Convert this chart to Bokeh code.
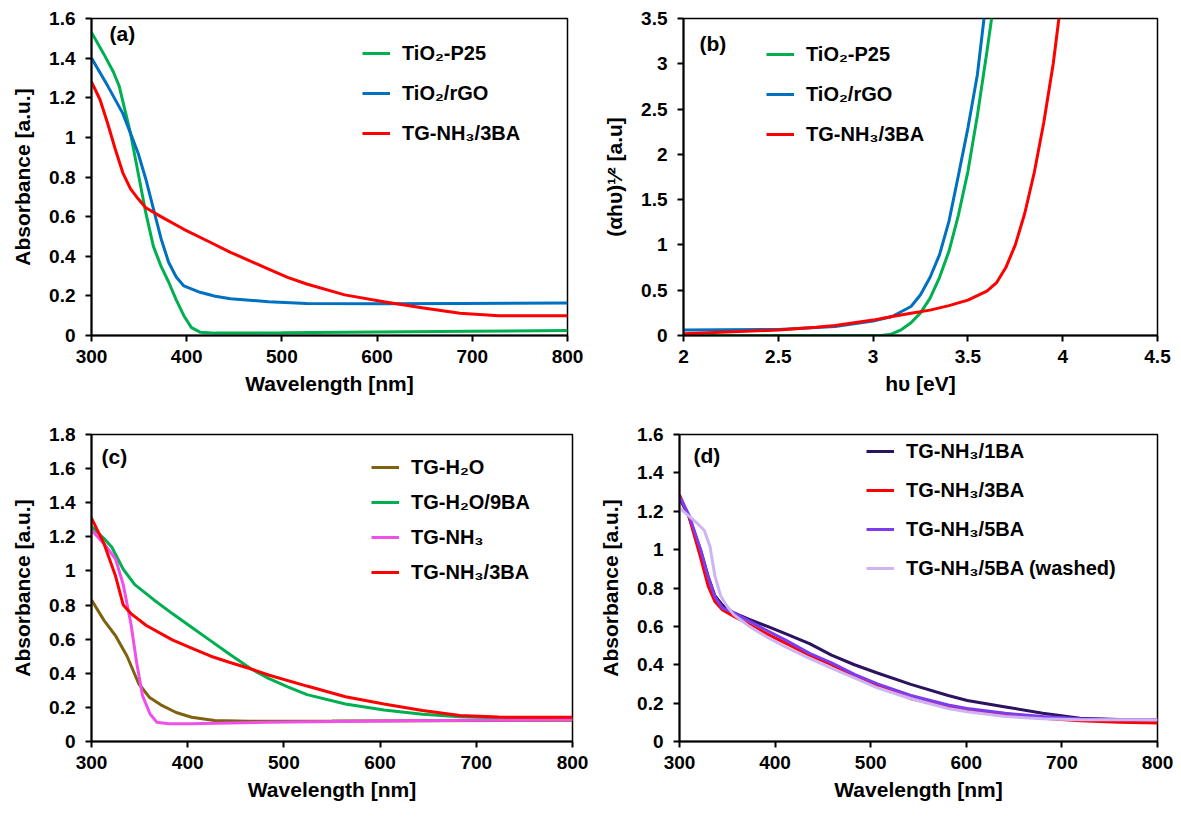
from bokeh.plotting import figure
from bokeh.layouts import column, row
from bokeh.models import Legend, LegendItem, FixedTicker, CustomJSTickFormatter, Label
from bokeh.embed import file_html
from bokeh.resources import INLINE

FONT = "Liberation Sans"

# ---------------- data ----------------
# (a) absorbance vs wavelength
A_X_P25 = [300, 313, 323, 329, 341, 349, 357, 365, 373, 381, 389, 397, 405, 414, 430, 500, 600, 700, 800]
A_Y_P25 = [1.53, 1.42, 1.33, 1.26, 1.02, 0.82, 0.62, 0.45, 0.35, 0.27, 0.18, 0.10, 0.04, 0.017, 0.012, 0.014, 0.018, 0.022, 0.025]
A_X_RGO = [300, 317, 333, 341, 349, 357, 365, 373, 381, 389, 397, 414, 430, 446, 486, 526, 607, 687, 800]
A_Y_RGO = [1.40, 1.26, 1.12, 1.02, 0.92, 0.79, 0.64, 0.49, 0.37, 0.295, 0.25, 0.218, 0.198, 0.186, 0.17, 0.162, 0.16, 0.162, 0.164]
A_X_BA3 = [300, 309, 317, 325, 333, 341, 349, 357, 373, 397, 422, 446, 486, 506, 526, 566, 607, 647, 687, 728, 800]
A_Y_BA3 = [1.28, 1.19, 1.07, 0.94, 0.82, 0.74, 0.69, 0.645, 0.60, 0.536, 0.477, 0.42, 0.335, 0.293, 0.26, 0.205, 0.17, 0.14, 0.112, 0.10, 0.10]

# (b) Tauc plot
B_X_P25 = [2.0, 2.5, 3.0, 3.05, 3.09, 3.15, 3.2, 3.25, 3.3, 3.35, 3.4, 3.45, 3.5, 3.55, 3.6, 3.625]
B_Y_P25 = [0, 0, 0, 0.003, 0.01, 0.066, 0.14, 0.25, 0.41, 0.64, 0.93, 1.33, 1.81, 2.43, 3.13, 3.5]
B_X_RGO = [2.0, 2.5, 2.8, 3.0, 3.1, 3.2, 3.25, 3.3, 3.35, 3.4, 3.45, 3.5, 3.55, 3.585]
B_Y_RGO = [0.06, 0.066, 0.10, 0.16, 0.21, 0.32, 0.45, 0.64, 0.89, 1.26, 1.77, 2.29, 2.88, 3.5]
B_X_BA3 = [2.0, 2.5, 2.7, 2.8, 2.9, 3.0, 3.1, 3.2, 3.3, 3.4, 3.5, 3.6, 3.65, 3.7, 3.75, 3.8, 3.85, 3.9, 3.95, 3.98]
B_Y_BA3 = [0.02, 0.06, 0.09, 0.11, 0.14, 0.17, 0.21, 0.245, 0.28, 0.33, 0.39, 0.49, 0.58, 0.75, 1.0, 1.35, 1.8, 2.35, 3.0, 3.5]

# (c)
C_X_H2O = [300, 313, 325, 337, 349, 360, 372, 388, 404, 428, 464, 550, 650, 800]
C_Y_H2O = [0.83, 0.71, 0.62, 0.50, 0.34, 0.26, 0.215, 0.17, 0.142, 0.123, 0.119, 0.12, 0.122, 0.125]
C_X_9BA = [300, 313, 321, 333, 345, 365, 384, 404, 424, 444, 466, 484, 504, 524, 564, 604, 644, 683, 740, 800]
C_Y_9BA = [1.26, 1.19, 1.14, 1.01, 0.92, 0.83, 0.75, 0.67, 0.59, 0.51, 0.425, 0.37, 0.32, 0.275, 0.22, 0.185, 0.16, 0.145, 0.136, 0.132]
C_X_NH3 = [300, 313, 325, 333, 341, 347, 353, 361, 368, 380, 404, 484, 600, 700, 800]
C_Y_NH3 = [1.24, 1.16, 1.07, 0.92, 0.69, 0.46, 0.27, 0.16, 0.113, 0.104, 0.104, 0.113, 0.12, 0.124, 0.127]
C_X_BA3 = [300, 313, 325, 333, 341, 357, 384, 404, 424, 444, 466, 484, 524, 564, 604, 644, 683, 723, 800]
C_Y_BA3 = [1.31, 1.16, 0.97, 0.80, 0.75, 0.68, 0.596, 0.548, 0.50, 0.463, 0.425, 0.39, 0.325, 0.262, 0.22, 0.182, 0.153, 0.143, 0.142]

# (d)
D_X = [300, 310, 322, 330, 337, 345, 357, 373, 392, 412, 436, 459, 483, 507, 542, 581, 601, 641, 680, 719, 760, 800]
D_Y_1BA = [1.27, 1.17, 1.0, 0.86, 0.76, 0.71, 0.67, 0.636, 0.60, 0.56, 0.51, 0.45, 0.40, 0.357, 0.298, 0.24, 0.214, 0.18, 0.147, 0.121, 0.115, 0.113]
D_Y_3BA = [1.285, 1.17, 0.96, 0.81, 0.73, 0.686, 0.652, 0.61, 0.56, 0.51, 0.45, 0.40, 0.34, 0.29, 0.223, 0.18, 0.164, 0.138, 0.121, 0.108, 0.10, 0.096]
D_Y_5BA = [1.276, 1.18, 1.0, 0.855, 0.754, 0.695, 0.67, 0.627, 0.577, 0.526, 0.459, 0.41, 0.35, 0.30, 0.24, 0.19, 0.172, 0.147, 0.13, 0.118, 0.114, 0.113]
D_X_5BAW = [300, 310, 318, 326, 332, 337, 343, 349, 357, 373, 392, 412, 436, 459, 483, 507, 542, 581, 601, 641, 680, 719, 800]
D_Y_5BAW = [1.217, 1.175, 1.14, 1.10, 1.015, 0.863, 0.76, 0.71, 0.66, 0.60, 0.543, 0.49, 0.433, 0.383, 0.332, 0.28, 0.223, 0.172, 0.155, 0.13, 0.118, 0.113, 0.113]

WL_TICKS = [300, 400, 500, 600, 700, 800]
A_YTICKS = [0, 0.2, 0.4, 0.6, 0.8, 1.0, 1.2, 1.4, 1.6]
B_XTICKS = [2, 2.5, 3, 3.5, 4, 4.5]
B_YTICKS = [0, 0.5, 1, 1.5, 2, 2.5, 3, 3.5]
C_YTICKS = [0, 0.2, 0.4, 0.6, 0.8, 1.0, 1.2, 1.4, 1.6, 1.8]
D_YTICKS = A_YTICKS

GREEN = "#00B050"
BLUE = "#0070C0"
RED = "#FF0000"
BROWN = "#7F6210"
MAGENTA = "#F14FE8"
NAVY = "#2B1360"
PURPLE = "#7D3CF0"
LAVENDER = "#CDB5F5"

FMT = CustomJSTickFormatter(code="return String(Number(tick.toFixed(2)));")


def make_fig(w, h, xr, yr, xt, yt, bl, br, bt, bb, xlabel, ylabel):
    p = figure(width=w, height=h, x_range=xr, y_range=yr,
               output_backend="svg", toolbar_location=None,
               min_border_left=bl, min_border_right=br,
               min_border_top=bt, min_border_bottom=bb)
    p.xgrid.visible = False
    p.ygrid.visible = False
    p.outline_line_color = "black"
    p.outline_line_width = 1.5
    p.outline_line_alpha = 1
    p.background_fill_color = "white"
    p.border_fill_color = "white"
    for ax, ticks, lab in ((p.xaxis[0], xt, xlabel), (p.yaxis[0], yt, ylabel)):
        ax.ticker = FixedTicker(ticks=ticks)
        ax.formatter = FMT
        ax.major_tick_out = 6
        ax.major_tick_in = 0
        ax.minor_tick_out = 0
        ax.minor_tick_in = 0
        ax.axis_line_width = 2
        ax.axis_line_color = "black"
        ax.major_tick_line_width = 2
        ax.major_tick_line_color = "black"
        ax.major_label_text_font = FONT
        ax.major_label_text_font_style = "bold"
        ax.major_label_text_font_size = "19px"
        ax.major_label_text_color = "black"
        ax.axis_label = lab
        ax.axis_label_text_font = FONT
        ax.axis_label_text_font_style = "bold"
        ax.axis_label_text_font_size = "21px"
        ax.axis_label_text_color = "black"
    p.xaxis[0].major_label_standoff = 8
    p.xaxis[0].axis_label_standoff = 6
    p.yaxis[0].major_label_standoff = 10
    p.yaxis[0].axis_label_standoff = 12
    return p


def add_legend(p, items, loc, spacing):
    leg = Legend(items=items, location=loc, orientation="vertical",
                 padding=0, margin=0, spacing=spacing,
                 glyph_width=28, glyph_height=24, label_height=24,
                 label_standoff=12,
                 label_text_font=FONT, label_text_font_style="bold",
                 label_text_font_size="20px", label_text_color="black",
                 border_line_alpha=0, background_fill_alpha=0)
    p.add_layout(leg, "center")


def add_tag(p, x, y, text):
    p.add_layout(Label(x=x, y=y, text=text, text_font=FONT, text_font_style="bold",
                       text_font_size="21px", text_color="black",
                       text_align="left", text_baseline="middle"))


LW = 3

# (a)
pa = make_fig(590, 405, (300, 800), (0, 1.6), WL_TICKS, A_YTICKS, 91, 23, 18, 69,
              "Wavelength [nm]", "Absorbance [a.u.]")
r1 = pa.line(A_X_P25, A_Y_P25, line_color=GREEN, line_width=LW)
r2 = pa.line(A_X_RGO, A_Y_RGO, line_color=BLUE, line_width=LW)
r3 = pa.line(A_X_BA3, A_Y_BA3, line_color=RED, line_width=LW)
add_legend(pa, [LegendItem(label="TiO₂-P25", renderers=[r1]),
                LegendItem(label="TiO₂/rGO", renderers=[r2]),
                LegendItem(label="TG-NH₃/3BA", renderers=[r3])], (271, 190), 16)
add_tag(pa, 319, 1.524, "(a)")

# (b)
pb = make_fig(586, 405, (2, 4.5), (0, 3.5), B_XTICKS, B_YTICKS, 93, 19, 18, 70,
              "hυ [eV]", "(αhυ)¹⁄² [a.u]")
r1 = pb.line(B_X_P25, B_Y_P25, line_color=GREEN, line_width=LW)
r2 = pb.line(B_X_RGO, B_Y_RGO, line_color=BLUE, line_width=LW)
r3 = pb.line(B_X_BA3, B_Y_BA3, line_color=RED, line_width=LW)
add_legend(pb, [LegendItem(label="TiO₂-P25", renderers=[r1]),
                LegendItem(label="TiO₂/rGO", renderers=[r2]),
                LegendItem(label="TG-NH₃/3BA", renderers=[r3])], (83, 189), 16)
add_tag(pb, 2.084, 3.224, "(b)")

# (c)
pc = make_fig(590, 405, (300, 800), (0, 1.8), WL_TICKS, C_YTICKS, 91, 18, 29, 64,
              "Wavelength [nm]", "Absorbance [a.u.]")
r1 = pc.line(C_X_H2O, C_Y_H2O, line_color=BROWN, line_width=LW)
r2 = pc.line(C_X_9BA, C_Y_9BA, line_color=GREEN, line_width=LW)
r3 = pc.line(C_X_NH3, C_Y_NH3, line_color=MAGENTA, line_width=LW)
r4 = pc.line(C_X_BA3, C_Y_BA3, line_color=RED, line_width=LW)
add_legend(pc, [LegendItem(label="TG-H₂O", renderers=[r1]),
                LegendItem(label="TG-H₂O/9BA", renderers=[r2]),
                LegendItem(label="TG-NH₃", renderers=[r3]),
                LegendItem(label="TG-NH₃/3BA", renderers=[r4])], (280, 157), 11)
add_tag(pc, 310.4, 1.673, "(c)")

# (d)
pd_ = make_fig(586, 405, (300, 800), (0, 1.6), WL_TICKS, D_YTICKS, 89, 19, 22, 69,
               "Wavelength [nm]", "Absorbance [a.u.]")
r1 = pd_.line(D_X, D_Y_1BA, line_color=NAVY, line_width=LW)
r2 = pd_.line(D_X, D_Y_3BA, line_color=RED, line_width=LW)
r3 = pd_.line(D_X, D_Y_5BA, line_color=PURPLE, line_width=LW)
r4 = pd_.line(D_X_5BAW, D_Y_5BAW, line_color=LAVENDER, line_width=LW)
add_legend(pd_, [LegendItem(label="TG-NH₃/1BA", renderers=[r1]),
                 LegendItem(label="TG-NH₃/3BA", renderers=[r2]),
                 LegendItem(label="TG-NH₃/5BA", renderers=[r3]),
                 LegendItem(label="TG-NH₃/5BA (washed)", renderers=[r4])], (187, 161), 15)
add_tag(pd_, 314.6, 1.488, "(d)")

layout = column(row(pa, pb), row(pc, pd_))
open("out.html", "w").write(file_html(layout, INLINE))
